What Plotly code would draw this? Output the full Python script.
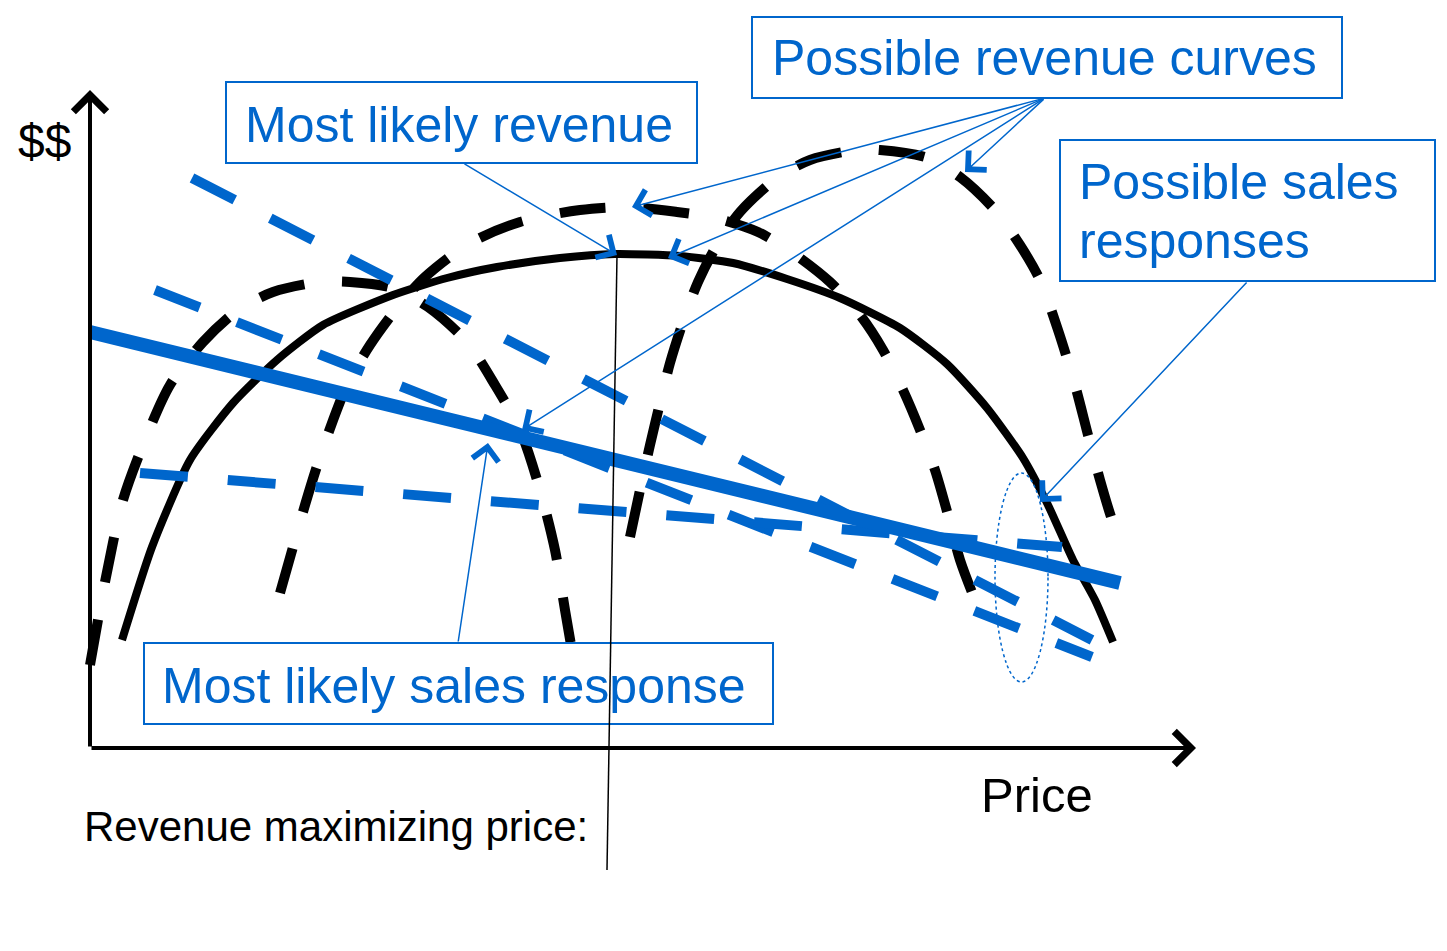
import plotly.graph_objects as go

# ---- data (diagram coordinates: x = price axis units, y = $$ axis units, screen-like) ----
rev_likely_x = [122, 152, 190, 233, 277, 323, 393, 447, 497, 560, 615, 680, 733, 787, 840, 900, 947, 987, 1023, 1048, 1073, 1095, 1113]
rev_likely_y = [640, 547, 460, 403, 360, 325, 295, 278, 267, 258, 254, 256, 263, 279, 298, 328, 364, 408, 458, 505, 560, 600, 642]

rev1_x = [90, 106, 123, 145, 170, 203, 238, 273, 320, 350, 393, 428, 467, 495, 520, 540, 555, 565, 575]
rev1_y = [665, 577, 500, 440, 385, 342, 310, 292, 282, 282, 288, 307, 342, 385, 430, 490, 550, 610, 668]

rev2_x = [280, 293, 305, 318, 332, 348, 370, 397, 425, 470, 520, 580, 628, 677, 715, 758, 793, 830, 860, 883, 903, 920, 935, 948, 960, 975]
rev2_y = [593, 547, 505, 463, 423, 383, 345, 308, 277, 243, 222, 210, 207, 212, 218, 232, 253, 282, 315, 350, 390, 430, 470, 515, 560, 600]

rev3_x = [630, 640, 650, 660, 670, 683, 698, 717, 740, 777, 810, 857, 880, 928, 960, 995, 1020, 1040, 1058, 1075, 1088, 1100, 1112, 1122]
rev3_y = [537, 490, 445, 403, 363, 322, 282, 245, 212, 178, 160, 150, 150, 158, 177, 210, 245, 280, 330, 385, 435, 480, 520, 548]

sales_likely_x = [90, 1120]
sales_likely_y = [332, 583]

sales_a_x = [192, 1092]
sales_a_y = [178, 640]
sales_b_x = [155, 1092]
sales_b_y = [290, 657]
sales_c_x = [140, 1062]
sales_c_y = [473, 547]

# labels: (text, x, y, size, colour)
labels = [
    ("Possible revenue curves", 770, 58, 50, "#0066cc"),
    ("Most likely revenue", 243, 125, 50, "#0066cc"),
    ("Possible sales", 1077, 182, 50, "#0066cc"),
    ("responses", 1077, 241, 50, "#0066cc"),
    ("Most likely sales response", 160, 686, 50, "#0066cc"),
    ("$$", 16, 141, 48, "black"),
    ("Price", 979, 795, 49, "black"),
    ("Revenue maximizing price:", 82, 826, 42, "black"),
]

# boxes: x0, y0, x1, y1
boxes = [
    (752, 17, 1342, 98),
    (226, 82, 697, 163),
    (1060, 140, 1435, 281),
    (144, 643, 773, 724),
]

# callout arrows: tail x, tail y, tip x, tip y
callouts = [
    (1045, 98, 632, 207),
    (1045, 98, 668, 258),
    (1045, 98, 522, 430),
    (1045, 98, 965, 172),
    (463, 163, 617, 255),
    (1248, 281, 1040, 502),
    (458, 643, 488, 443),
]

axis_origin = (90, 748)
axis_y_tip = (90, 90)
axis_x_tip = (1196, 748)
max_line = (617, 255, 607, 870)
ellipse = (995, 473, 1048, 682)

BLUE = "#0066cc"

fig = go.Figure()

dash_blk = "46px,38px"
for xs, ys in [(rev1_x, rev1_y), (rev2_x, rev2_y), (rev3_x, rev3_y)]:
    fig.add_trace(go.Scatter(x=xs, y=ys, mode="lines",
                             line=dict(color="black", width=10, dash=dash_blk, shape="spline", smoothing=0.8),
                             hoverinfo="skip"))
fig.add_trace(go.Scatter(x=rev_likely_x, y=rev_likely_y, mode="lines",
                         line=dict(color="black", width=8, shape="spline", smoothing=0.6), hoverinfo="skip"))

dash_blu = "48px,40px"
for xs, ys in [(sales_a_x, sales_a_y), (sales_b_x, sales_b_y), (sales_c_x, sales_c_y)]:
    fig.add_trace(go.Scatter(x=xs, y=ys, mode="lines",
                             line=dict(color=BLUE, width=10, dash=dash_blu), hoverinfo="skip"))
fig.add_trace(go.Scatter(x=sales_likely_x, y=sales_likely_y, mode="lines",
                         line=dict(color=BLUE, width=14), hoverinfo="skip"))

shapes = []
for (x0, y0, x1, y1) in boxes:
    shapes.append(dict(type="rect", xref="x", yref="y", x0=x0, y0=y0, x1=x1, y1=y1,
                       line=dict(color=BLUE, width=2), fillcolor="rgba(0,0,0,0)", layer="above"))
shapes.append(dict(type="line", xref="x", yref="y", x0=max_line[0], y0=max_line[1],
                   x1=max_line[2], y1=max_line[3], line=dict(color="black", width=1.5)))
shapes.append(dict(type="circle", xref="x", yref="y", x0=ellipse[0], y0=ellipse[1],
                   x1=ellipse[2], y1=ellipse[3], line=dict(color=BLUE, width=1.5, dash="dot")))

annotations = []
for (t, x, y, s, c) in labels:
    annotations.append(dict(text=t, x=x, y=y, xref="x", yref="y", xanchor="left", yanchor="middle",
                            showarrow=False, font=dict(family="Liberation Sans, Arial", size=s, color=c)))
for (tx, ty, hx, hy) in callouts:
    annotations.append(dict(text="", x=hx, y=hy, ax=tx, ay=ty, xref="x", yref="y", axref="x", ayref="y",
                            showarrow=True, arrowhead=4, arrowsize=3.4, arrowwidth=1.5,
                            arrowcolor=BLUE, standoff=0, startstandoff=0))
for tip in (axis_y_tip, axis_x_tip):
    annotations.append(dict(text="", x=tip[0], y=tip[1], ax=axis_origin[0], ay=axis_origin[1],
                            xref="x", yref="y", axref="x", ayref="y",
                            showarrow=True, arrowhead=4, arrowsize=1.6, arrowwidth=4,
                            arrowcolor="black", standoff=0))

fig.update_layout(
    width=1447, height=951,
    margin=dict(l=0, r=0, t=0, b=0),
    paper_bgcolor="white", plot_bgcolor="white",
    showlegend=False,
    xaxis=dict(range=[0, 1447], visible=False, fixedrange=True),
    yaxis=dict(range=[951, 0], visible=False, fixedrange=True),
    shapes=shapes, annotations=annotations,
)

fig.write_html("out.html")
